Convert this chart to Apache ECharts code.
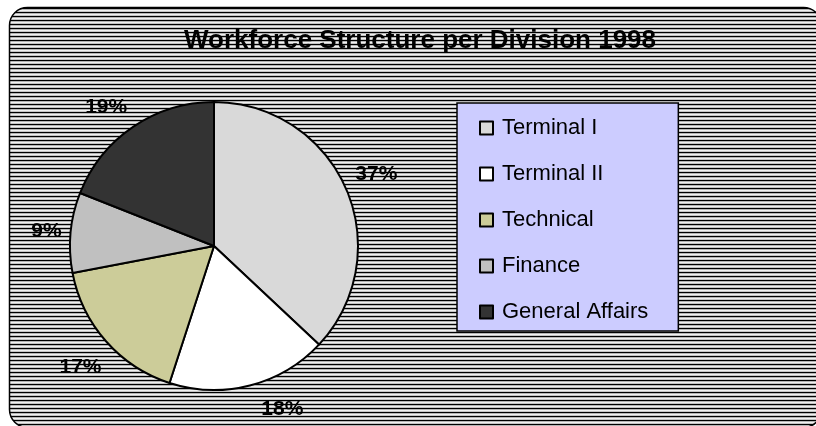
<!DOCTYPE html>
<html>
<head>
<meta charset="utf-8">
<script src="https://cdn.jsdelivr.net/npm/echarts@6/dist/echarts.min.js"></script>
<style>
  html, body { margin: 0; padding: 0; background: #fff; }
  #chart { width: 816px; height: 426px; }
</style>
</head>
<body>
<div id="chart"></div>
<script>
// data
const divisions = ['Terminal I', 'Terminal II', 'Technical', 'Finance', 'General Affairs']
const shares = [37, 18, 17, 9, 19]
const colours = ['#d9d9d9', '#ffffff', '#cccc99', '#c0c0c0', '#333333']

// excel placed the % labels a bit unevenly, nudge each one
const labelGap = [10, 22, 10, 9, 14]
const labelShift = [[0, -11], [6, 2], [3, 19], [0, 0], [2, -8]]

// striped fill like the old excel "dark horizontal" pattern
function stripes () {
  const c = document.createElement('canvas')
  c.width = 4
  c.height = 4
  const ctx = c.getContext('2d')
  const rows = ['#000000', '#b4b4b4', '#f0f0f0', '#c4c4c4']
  rows.forEach((col, i) => {
    ctx.fillStyle = col
    ctx.fillRect(0, i, 4, 1)
  })
  return c
}

const myChart = echarts.init(document.getElementById('chart'))
const option = {
  animation: false,
  backgroundColor: '#fff',
  graphic: [
    {
      type: 'rect',
      z: -10,
      shape: { x: 9.5, y: 7.5, width: 812, height: 420, r: 18 },
      style: { fill: { image: stripes(), repeat: 'repeat' }, stroke: '#000', lineWidth: 1.5 }
    }
  ],
  title: {
    text: 'Workforce Structure per Division 1998',
    left: 415,
    top: 23,
    textAlign: 'center',
    textStyle: { fontFamily: 'Liberation Sans', fontWeight: 'bold', fontSize: 26, color: '#000' }
  },
  legend: {
    orient: 'vertical',
    left: 457,
    top: 103,
    padding: [14, 30, 8, 22],
    itemGap: 24,
    itemWidth: 13,
    itemHeight: 13,
    icon: 'rect',
    backgroundColor: '#ccccff',
    borderColor: '#000',
    borderWidth: 1.5,
    itemStyle: { borderColor: '#000', borderWidth: 2 },
    textStyle: { fontFamily: 'Liberation Sans', fontSize: 22, color: '#000', padding: [0, 0, 0, 4] },
    data: divisions
  },
  series: [
    {
      type: 'pie',
      center: [214, 246],
      radius: 144,
      startAngle: 90,
      clockwise: true,
      avoidLabelOverlap: false,
      itemStyle: { borderColor: '#000', borderWidth: 2 },
      label: {
        show: true,
        position: 'outside',
        formatter: '{d}%',
        fontFamily: 'Liberation Sans',
        fontWeight: 'bold',
        fontSize: 21,
        color: '#000',
        distanceToLabelLine: 0
      },
      labelLine: { show: false, length: 18, length2: 0 },
      emphasis: { disabled: true },
      data: divisions.map((name, i) => ({
        name,
        value: shares[i],
        itemStyle: { color: colours[i] },
        label: { offset: labelShift[i] },
        labelLine: { show: false, length: labelGap[i], length2: 0 }
      }))
    }
  ]
}
option && myChart.setOption(option)
</script>
</body>
</html>
